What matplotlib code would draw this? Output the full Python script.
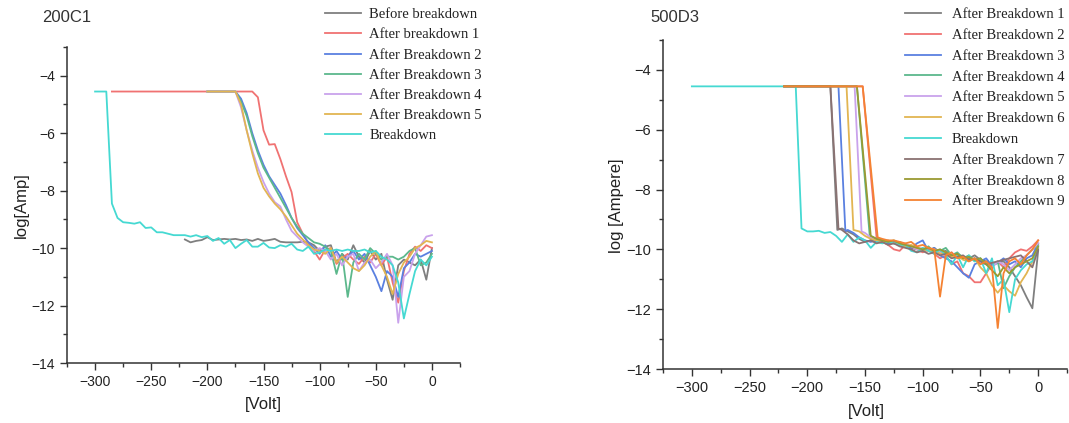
import matplotlib
matplotlib.use("Agg")
import matplotlib.pyplot as plt
from matplotlib.ticker import MultipleLocator
from matplotlib.transforms import Bbox, TransformedBbox

# ---------------- data: panel 200C1 ----------------
L_labels = ["Before breakdown", "After breakdown 1", "After Breakdown 2",
            "After Breakdown 3", "After Breakdown 4", "After Breakdown 5", "Breakdown"]
L_colors = ["#7f7f7f", "#f07272", "#5a80e0", "#5cb88c", "#c9a2ec", "#e2b552", "#45d9d2"]

L_before_v = list(range(-220, 1, 5))
L_before_i = [-9.70, -9.80, -9.75, -9.72, -9.62, -9.72, -9.70, -9.68, -9.70, -9.68,
              -9.72, -9.70, -9.75, -9.68, -9.75, -9.72, -9.68, -9.78, -9.80, -9.80,
              -9.80, -9.78, -9.80, -9.90, -10.10,
              -9.95, -9.90, -10.50, -10.20, -10.40, -9.90, -10.30, -10.50, -10.10, -10.40,
              -10.20, -11.10, -11.80, -10.60, -10.40, -10.50, -10.60, -10.40, -11.10, -10.00]

L_ab1_v = [-285] + list(range(-160, 1, 5))
L_ab1_i = [-4.55, -4.55, -4.75, -5.90, -6.40, -6.38, -6.90, -7.50, -8.05, -9.10,
           -9.50, -9.85, -10.10, -10.40,
           -10.05, -10.00, -10.55, -10.35, -10.20, -10.40, -10.55, -10.30, -10.50, -10.20,
           -10.60, -10.30, -11.20, -11.90, -10.80, -10.20, -9.95, -10.10, -9.90, -10.00]

L_ab_v = [-200] + list(range(-175, 1, 5))
L_ab2_i = [-4.55, -4.55, -4.80, -5.30, -6.00, -6.60, -7.10, -7.50, -7.80, -8.10,
           -8.50, -8.95, -9.30, -9.55, -9.80, -10.00, -10.20,
           -9.90, -10.30, -10.10, -10.40, -10.30, -10.10, -10.40, -10.20, -10.60, -11.00,
           -11.50, -10.80, -11.00, -11.70, -10.70, -10.50, -10.20, -10.30, -10.20, -10.10]
L_ab3_i = [-4.55, -4.55, -4.90, -5.40, -6.10, -6.70, -7.20, -7.55, -7.90, -8.25,
           -8.60, -8.95, -9.25, -9.50, -9.65, -9.80, -9.85,
           -9.95, -10.10, -10.90, -10.20, -11.70, -10.50, -10.20, -10.40, -10.00, -10.20,
           -10.40, -10.30, -10.30, -10.40, -10.30, -10.10, -10.00, -10.60, -10.50, -10.20]
L_ab4_i = [-4.55, -4.55, -5.10, -5.90, -6.60, -7.20, -7.70, -8.10, -8.40, -8.55,
           -9.00, -9.40, -9.60, -9.80, -9.95, -10.10, -10.00,
           -10.10, -10.40, -10.20, -10.60, -10.30, -10.20, -10.80, -10.50, -10.40, -10.70,
           -10.50, -10.20, -10.60, -12.60, -11.00, -10.80, -10.20, -9.90, -9.60, -9.55]
L_ab5_i = [-4.55, -4.55, -5.00, -5.90, -6.70, -7.40, -7.90, -8.20, -8.45, -8.65,
           -8.90, -9.20, -9.50, -9.70, -9.90, -10.05, -10.10,
           -10.20, -10.00, -10.50, -10.30, -10.50, -10.70, -10.80, -10.60, -10.30, -10.10,
           -10.60, -11.00, -11.60, -10.90, -10.50, -10.30, -10.00, -9.90, -9.75, -9.80]

L_bd_v = [-300] + list(range(-290, 1, 5))
L_bd_i = [-4.55, -4.55, -8.45, -8.95, -9.10, -9.12, -9.15, -9.10, -9.30, -9.28, -9.45,
          -9.45, -9.50, -9.55, -9.55, -9.55, -9.60, -9.55, -9.62, -9.58, -9.75,
          -9.65, -9.85, -9.72, -10.00, -9.85, -9.72, -9.95, -9.95, -9.82, -9.98,
          -10.00, -9.90, -9.95, -9.85, -10.05, -10.10, -9.95, -10.20, -10.15,
          -10.05, -10.10, -10.05, -10.10, -10.05, -10.10, -10.10, -10.05, -10.15, -10.10,
          -10.30, -10.40, -10.60, -11.20, -12.45, -11.60, -10.80, -10.40, -10.60, -10.30]

# ---------------- data: panel 500D3 ----------------
R_labels = ["After Breakdown 1", "After Breakdown 2", "After Breakdown 3",
            "After Breakdown 4", "After Breakdown 5", "After Breakdown 6", "Breakdown",
            "After Breakdown 7", "After Breakdown 8", "After Breakdown 9"]
R_colors = ["#7f7f7f", "#f07272", "#5a80e0", "#5cb88c", "#c9a2ec", "#e2b552", "#45d9d2",
            "#8a7272", "#9a9a32", "#f58232"]

R_ab1_v = [-220, -180, -174] + list(range(-170, 1, 5))
R_ab1_i = [-4.55, -4.55, -9.35,
           -9.30, -9.40, -9.50, -9.65, -9.75, -9.70, -9.75, -9.70, -9.80, -9.75,
           -9.85, -9.90, -9.95, -10.00, -10.00,
           -10.05, -9.95, -10.10, -10.05, -10.20, -10.15, -10.25, -10.30, -10.20, -10.35,
           -10.40, -10.50, -10.45, -10.40, -10.60, -10.90, -11.20, -11.60, -11.97, -10.05]
R_ab2_v = [-220, -152, -140] + list(range(-135, 1, 5))
R_ab2_i = [-4.55, -4.55, -9.60,
           -9.75, -9.85, -10.00, -10.05, -9.85, -9.90, -10.00, -10.10,
           -10.00, -10.15, -10.30, -10.20, -10.50, -10.40, -10.80, -10.90, -11.10, -11.10,
           -10.80, -10.50, -10.40, -10.60, -10.30, -10.10, -10.00, -10.05, -9.90, -9.70]
R_ab3_v = [-220, -173, -167] + list(range(-165, 1, 5))
R_ab3_i = [-4.55, -4.55, -9.40,
           -9.35, -9.45, -9.60, -9.70, -9.75, -9.70, -9.75, -9.80, -9.75, -9.80,
           -9.85, -9.95, -9.80, -9.70,
           -10.05, -9.95, -10.20, -10.30, -10.40, -10.60, -10.80, -10.95, -10.50, -10.40,
           -10.30, -10.55, -10.45, -10.30, -10.50, -10.40, -10.60, -10.30, -10.20, -9.80]
R_ab4_v = [-220, -157, -146] + list(range(-145, 1, 5))
R_ab4_i = [-4.55, -4.55, -9.50,
           -9.55, -9.65, -9.70, -9.75, -9.80, -9.75, -9.85, -9.90, -9.95, -10.00,
           -9.90, -10.10, -10.05, -9.95, -10.20, -10.10, -10.30, -10.20, -10.40, -10.30,
           -10.50, -10.60, -10.40, -11.30, -10.90, -10.60, -10.40, -10.20, -10.00, -9.85]
R_ab5_v = [-220, -159, -153] + list(range(-150, 1, 5))
R_ab5_i = [-4.55, -4.55, -9.40,
           -9.45, -9.60, -9.70, -9.75, -9.70, -9.80, -9.85, -9.80, -9.90, -10.00, -9.95,
           -10.05, -10.00, -10.10, -10.20, -10.10, -10.30, -10.25, -10.40, -10.30, -10.45,
           -10.50, -10.60, -10.40, -10.50, -10.70, -10.50, -10.30, -10.20, -10.00, -9.80]
R_ab6_v = [-220, -166, -160] + list(range(-155, 1, 5))
R_ab6_i = [-4.55, -4.55, -9.35,
           -9.40, -9.55, -9.65, -9.70, -9.75, -9.70, -9.80, -9.85, -9.90, -9.85, -9.95,
           -10.00,
           -10.05, -10.00, -10.15, -10.10, -10.25, -10.20, -10.35, -10.40, -10.30, -10.60,
           -10.80, -11.20, -11.45, -11.20, -11.40, -11.55, -11.10, -10.80, -10.40, -9.95]
R_bd_v = [-300, -210] + list(range(-205, 1, 5))
R_bd_i = [-4.55, -4.55,
          -9.30, -9.40, -9.40, -9.38, -9.45, -9.42, -9.55, -9.75, -9.50, -9.75,
          -9.60, -9.70, -9.95, -9.75, -9.80, -9.75, -9.80, -9.85, -9.85, -10.05,
          -10.10, -9.95, -10.05, -10.15, -10.00, -10.20, -10.50, -10.20, -10.60, -10.20,
          -10.40, -10.30, -10.80, -10.30, -11.20, -11.00, -12.10, -11.00, -10.70, -10.50,
          -10.40, -9.90]
R_ab7_v = [-220, -180, -173] + list(range(-170, 1, 5))
R_ab7_i = [-4.55, -4.55, -9.30,
           -9.35, -9.50, -9.70, -9.80, -9.75, -9.70, -9.80, -9.75, -9.85, -9.80,
           -9.90, -9.95, -10.00, -10.10, -10.05,
           -10.15, -10.10, -10.20, -10.15, -10.30, -10.25, -10.20, -10.35, -10.30, -10.40,
           -10.50, -10.45, -10.40, -10.35, -10.30, -10.25, -10.20, -10.40, -10.60, -10.00]
R_ab8_v = [-220, -157, -145] + list(range(-140, 1, 5))
R_ab8_i = [-4.55, -4.55, -9.55,
           -9.65, -9.70, -9.75, -9.70, -9.80, -9.85, -9.90, -9.95, -10.00,
           -9.95, -10.05, -10.00, -10.10, -10.20, -10.15, -10.30, -10.25, -10.35, -10.30,
           -10.50, -10.70, -10.90, -10.60, -10.80, -10.60, -10.50, -10.40, -10.30, -9.90]
R_ab9_v = [-220, -152, -139] + list(range(-135, 1, 5))
R_ab9_i = [-4.55, -4.55, -9.60,
           -9.65, -9.70, -9.70, -9.75, -9.80, -9.75, -9.90, -9.85,
           -9.95, -10.00, -11.58, -10.20, -10.10, -10.30, -10.25, -10.40, -10.30, -10.50,
           -10.40, -10.60, -12.63, -10.80, -10.40, -10.30, -10.50, -10.20, -10.00, -9.70]

x_ticks = [-300, -250, -200, -150, -100, -50, 0]
y_ticks = [-14, -12, -10, -8, -6, -4]

# ---------------- drawing ----------------
W, H = 1069, 423
fig = plt.figure(figsize=(W / 100, H / 100), dpi=100)
plt.rcParams["font.family"] = ["Liberation Sans", "DejaVu Sans"]
serif = ["Liberation Serif", "DejaVu Serif"]
axcol = "#333333"


def px(x0, y_top, x1, y_bot):
    return [x0 / W, 1 - y_bot / H, (x1 - x0) / W, (y_bot - y_top) / H]


def style(ax, tick_fs):
    ax.set_xlim(-325, 25)
    ax.set_ylim(-14, -3)
    ax.set_xticks(x_ticks)
    ax.set_yticks(y_ticks)
    ax.xaxis.set_minor_locator(MultipleLocator(25))
    ax.yaxis.set_minor_locator(MultipleLocator(1))
    for s in ["top", "right"]:
        ax.spines[s].set_visible(False)
    for s in ["left", "bottom"]:
        ax.spines[s].set_linewidth(1.1)
        ax.spines[s].set_color(axcol)
    ax.tick_params(which="major", direction="out", length=5, width=1.0, color=axcol,
                   labelsize=tick_fs, labelcolor="#222222", pad=3.5)
    ax.tick_params(which="minor", direction="out", length=3, width=1.0, color=axcol)


# left panel
axL = fig.add_axes(px(67, 47, 460, 363))
style(axL, 10)
L_series = [(L_before_v, L_before_i), (L_ab1_v, L_ab1_i), (L_ab_v, L_ab2_i),
            (L_ab_v, L_ab3_i), (L_ab_v, L_ab4_i), (L_ab_v, L_ab5_i), (L_bd_v, L_bd_i)]
L_lines = []
for (v, i), c, lab in zip(L_series, L_colors, L_labels):
    ln, = axL.plot(v, i, color=c, lw=1.3, label=lab)
    L_lines.append(ln)

fig.text(42 / W, 1 - 17 / H, "200C1", fontsize=12, color="#333333", va="center", ha="left")
fig.text(21 / W, 1 - 205 / H, "log[Amp]", fontsize=12, rotation=90, va="center", ha="center",
         color="#222222")
fig.text(263 / W, 1 - 404 / H, "[Volt]", fontsize=12, va="center", ha="center", color="#222222")

legL = fig.legend(handles=L_lines, loc="upper left", bbox_to_anchor=(325 / W, 1 - 8 / H),
                  frameon=False, prop={"family": serif, "size": 10.5}, handlelength=2.5,
                  handletextpad=0.55, labelspacing=0.48, borderpad=0, borderaxespad=0)
clipL = TransformedBbox(Bbox([[0, 0], [482 / W, 1]]), fig.transFigure)
for t in legL.get_texts():
    t.set_clip_box(clipL)
    t.set_clip_on(True)
    t.set_color("#222222")

# right panel
axR = fig.add_axes(px(663, 40, 1067, 369))
style(axR, 10.5)
R_series = [(R_ab1_v, R_ab1_i), (R_ab2_v, R_ab2_i), (R_ab3_v, R_ab3_i), (R_ab4_v, R_ab4_i),
            (R_ab5_v, R_ab5_i), (R_ab6_v, R_ab6_i), (R_bd_v, R_bd_i), (R_ab7_v, R_ab7_i),
            (R_ab8_v, R_ab8_i), (R_ab9_v, R_ab9_i)]
R_lines = []
for (v, i), c, lab in zip(R_series, R_colors, R_labels):
    ln, = axR.plot(v, i, color=c, lw=1.3, label=lab)
    R_lines.append(ln)

fig.text(650 / W, 1 - 18 / H, "500D3", fontsize=12, color="#333333", va="center", ha="left")
fig.text(617 / W, 1 - 206 / H, "log [Ampere]", fontsize=12, rotation=90, va="center",
         ha="center", color="#222222")
fig.text(866 / W, 1 - 411 / H, "[Volt]", fontsize=12, va="center", ha="center", color="#222222")

legR = fig.legend(handles=R_lines, loc="upper left", bbox_to_anchor=(905 / W, 1 - 8 / H),
                  frameon=False, prop={"family": serif, "size": 10.5}, handlelength=2.5,
                  handletextpad=0.7, labelspacing=0.52, borderpad=0, borderaxespad=0)
for t in legR.get_texts():
    t.set_color("#222222")

fig.savefig("out.png", dpi=100)
